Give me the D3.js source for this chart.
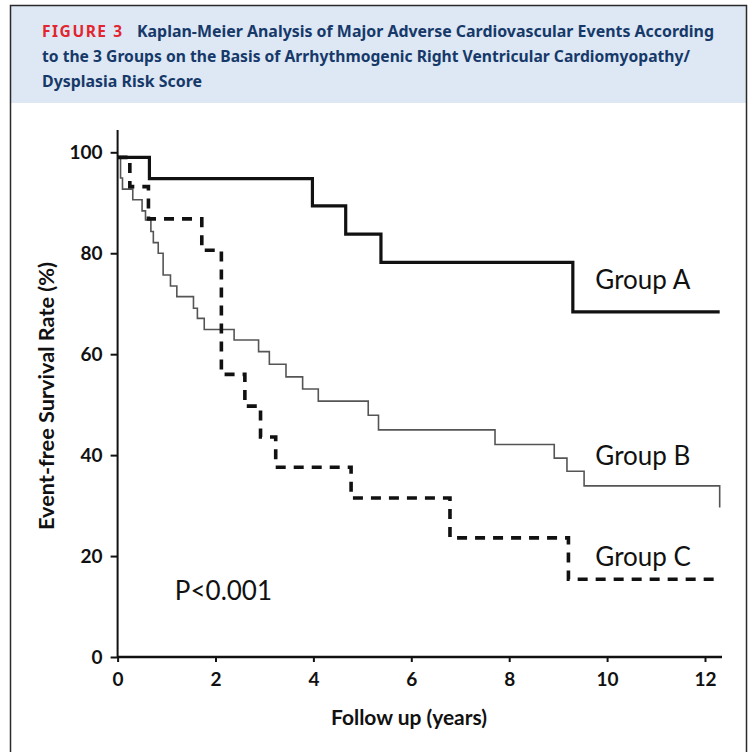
<!DOCTYPE html>
<html>
<head>
<meta charset="utf-8">
<script src="https://cdn.jsdelivr.net/npm/d3@7"></script>
<style>
  body { margin: 0; background: #fff; }
  svg text { font-family: Lato, "Open Sans", sans-serif; }
</style>
</head>
<body>
<div id="chart"></div>
<script>
// Data (years, event-free survival %)
var timesA = [0, 0.65, 3.98, 4.66, 5.38, 9.30, 12.3];
var survA  = [99, 94.8, 89.4, 83.8, 78.2, 68.4, 68.4];

var timesB = [0, 0.06, 0.10, 0.31, 0.50, 0.57, 0.68, 0.73, 0.83, 0.93, 1.08, 1.21, 1.55, 1.63,
  1.77, 2.38, 2.88, 3.10, 3.44, 3.78, 4.10, 5.12, 5.33, 7.71, 8.92, 9.18, 9.53, 12.3];
var survB  = [99, 94.9, 92.7, 90.6, 88.4, 86.6, 84.3, 82.1, 80.0, 75.7, 73.5, 71.4, 69.1, 67.1,
  64.9, 62.8, 60.5, 58.0, 55.5, 53.1, 50.7, 47.9, 45.0, 42.1, 39.4, 36.8, 33.9, 29.6];

var timesC = [0, 0.25, 0.63, 1.72, 2.12, 2.60, 2.92, 3.23, 4.77, 6.79, 9.21, 12.3];
var survC  = [99, 93.2, 86.8, 80.6, 56.0, 49.7, 43.6, 37.6, 31.5, 23.6, 15.4, 15.4];

var groupNames = ["Group A", "Group B", "Group C"];
var xTicks = [0, 2, 4, 6, 8, 10, 12];
var yTicks = [0, 20, 40, 60, 80, 100];

var width = 756, height = 752;

var svg = d3.select("#chart")
  .append("svg")
  .attr("width", width)
  .attr("height", height);

// header panel + frame
svg.append("rect")
  .attr("x", 11).attr("y", 6)
  .attr("width", 735).attr("height", 97)
  .attr("fill", "#dde8f4");

svg.append("rect")
  .attr("x", 10.5).attr("y", 5.5)
  .attr("width", 736).attr("height", 760)
  .attr("fill", "none")
  .attr("stroke", "#2a2a2a")
  .attr("stroke-width", 1.5);

var head = svg.append("g")
  .style("font-weight", "bold")
  .style("font-size", "15.5px");

head.append("text")
  .attr("x", 42).attr("y", 37)
  .attr("fill", "#e2252e")
  .attr("textLength", 80)
  .attr("lengthAdjust", "spacing")
  .style("font-family", "'Noto Sans', sans-serif")
  .text("FIGURE 3");

var titleLines = [
  {x: 137, y: 37, w: 577, t: "Kaplan-Meier Analysis of Major Adverse Cardiovascular Events According"},
  {x: 42, y: 62, w: 648, t: "to the 3 Groups on the Basis of Arrhythmogenic Right Ventricular Cardiomyopathy/"},
  {x: 42, y: 87, w: 160, t: "Dysplasia Risk Score"}
];

head.selectAll("text.title")
  .data(titleLines)
  .enter()
  .append("text")
  .attr("class", "title")
  .attr("x", d => d.x)
  .attr("y", d => d.y)
  .attr("textLength", d => d.w)
  .attr("lengthAdjust", "spacingAndGlyphs")
  .attr("fill", "#17396a")
  .style("font-family", "'Noto Sans', sans-serif")
  .text(d => d.t);

// scales
var xScale = d3.scaleLinear()
  .domain([0, 12])
  .range([117.6, 705]);

var yScale = d3.scaleLinear()
  .domain([0, 100])
  .range([657, 152.3]);

// axes
var yAxis = d3.axisLeft(yScale)
  .tickValues(yTicks)
  .tickSize(7)
  .tickPadding(8);

svg.append("g")
  .attr("transform", `translate(${xScale(0)},0)`)
  .attr("class", "y-axis")
  .call(yAxis)
  .call(g => g.select(".domain").remove())
  .call(g => g.selectAll("line").attr("stroke", "#111").attr("stroke-width", 2))
  .selectAll("text")
  .attr("fill", "#111")
  .style("font-size", "19px")
  .style("font-weight", "bold");

var xAxis = d3.axisBottom(xScale)
  .tickValues(xTicks)
  .tickSize(5)
  .tickPadding(11);

svg.append("g")
  .attr("transform", `translate(0,${yScale(0)})`)
  .attr("class", "x-axis")
  .call(xAxis)
  .call(g => g.select(".domain").remove())
  .call(g => g.selectAll("line").attr("stroke", "#111").attr("stroke-width", 2))
  .selectAll("text")
  .attr("fill", "#111")
  .style("font-size", "19px")
  .style("font-weight", "bold");

// axis lines
svg.append("line")
  .attr("x1", xScale(0)).attr("x2", xScale(0))
  .attr("y1", 130).attr("y2", yScale(0))
  .attr("stroke", "#111").attr("stroke-width", 2);

svg.append("line")
  .attr("x1", xScale(0)).attr("x2", 722)
  .attr("y1", yScale(0)).attr("y2", yScale(0))
  .attr("stroke", "#111").attr("stroke-width", 2.5);

// survival curves
var line = d3.line()
  .x(d => xScale(d[0]))
  .y(d => yScale(d[1]))
  .curve(d3.curveStepAfter);

var curves = [
  {pts: d3.zip(timesB, survB), color: "#555", w: 1.6, dash: null},
  {pts: d3.zip(timesC, survC), color: "#111", w: 3.6, dash: "10,8"},
  {pts: d3.zip(timesA, survA), color: "#111", w: 3.2, dash: null}
];

svg.selectAll("path.km")
  .data(curves)
  .enter()
  .append("path")
  .attr("class", "km")
  .attr("d", d => line(d.pts))
  .attr("fill", "none")
  .attr("stroke", d => d.color)
  .attr("stroke-width", d => d.w)
  .attr("stroke-dasharray", d => d.dash);

// group labels
var labelY = [72.9, 38.0, 18.0];
svg.selectAll("text.group")
  .data(groupNames)
  .enter()
  .append("text")
  .attr("class", "group")
  .attr("x", xScale(9.76))
  .attr("y", (d, i) => yScale(labelY[i]))
  .attr("fill", "#111")
  .style("font-size", "26px")
  .text(d => d);

svg.append("text")
  .attr("x", xScale(1.17))
  .attr("y", yScale(11.3))
  .attr("fill", "#111")
  .style("font-size", "26px")
  .text("P<0.001");

// axis titles
svg.append("text")
  .attr("x", 409).attr("y", 725)
  .attr("text-anchor", "middle")
  .attr("textLength", 156)
  .attr("lengthAdjust", "spacingAndGlyphs")
  .attr("fill", "#111")
  .style("font-size", "20px")
  .style("font-weight", "bold")
  .text("Follow up (years)");

svg.append("text")
  .attr("transform", "translate(54,396) rotate(-90)")
  .attr("text-anchor", "middle")
  .attr("textLength", 268)
  .attr("lengthAdjust", "spacingAndGlyphs")
  .attr("fill", "#111")
  .style("font-size", "20px")
  .style("font-weight", "bold")
  .text("Event-free Survival Rate (%)");
</script>
</body>
</html>
